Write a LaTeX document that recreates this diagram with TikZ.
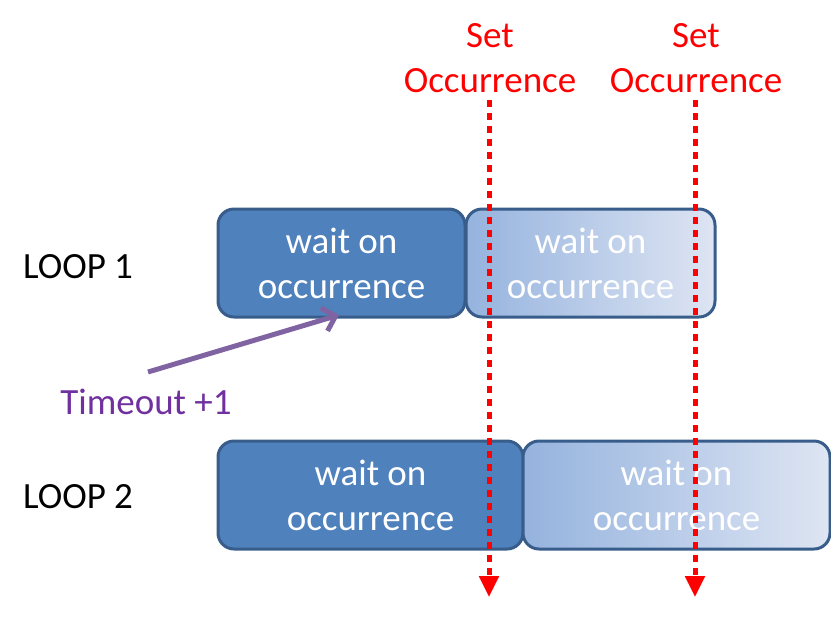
\documentclass[tikz,border=0pt]{standalone}
\usepackage{fontspec}
\setmainfont{Carlito}
\usetikzlibrary{arrows.meta}
\definecolor{boxblue}{RGB}{79,129,189}
\definecolor{boxline}{RGB}{56,93,138}
\definecolor{fadeleft}{RGB}{149,179,222}
\definecolor{faderight}{RGB}{222,229,243}
\definecolor{tmarrow}{RGB}{128,100,162}
\definecolor{tmtext}{RGB}{112,48,160}
\tikzset{
  bigfont/.style={font=\fontsize{37}{45}\selectfont},
  waitbox/.style={draw=boxline, line width=3pt, rounded corners=16pt, text=white,
    align=center, bigfont, inner sep=0pt},
  darkbox/.style={waitbox, fill=boxblue},
  fadebox/.style={waitbox, left color=fadeleft, right color=faderight},
  setline/.style={red, line width=5pt, dash pattern=on 7pt off 6pt,
    -{Triangle[width=19pt,length=21pt]}},
}
\begin{document}
\begin{tikzpicture}[x=1pt,y=-1pt]
\useasboundingbox (0,0) rectangle (831,625);
% loop labels
\node[bigfont] (loopa) at (78,267) {LOOP 1};
\node[bigfont] (loopb) at (78,497) {LOOP 2};
% loop 1
\node[darkbox, minimum width=247pt, minimum height=108pt] (waita) at (341.5,263) {wait on\\occurrence};
\node[fadebox, minimum width=249pt, minimum height=108pt] (waitb) at (590.5,263) {wait on\\occurrence};
% loop 2
\node[darkbox, minimum width=305pt, minimum height=108pt] (waitc) at (370.5,495) {wait on\\occurrence};
\node[fadebox, minimum width=307pt, minimum height=108pt] (waitd) at (676.5,495) {wait on\\occurrence};
% set occurrence
\node[bigfont, text=red, align=center] (seta) at (490,58) {Set\\Occurrence};
\node[bigfont, text=red, align=center] (setb) at (696,58) {Set\\Occurrence};
\coordinate (seta top) at (489,100);
\coordinate (seta end) at (489,597);
\coordinate (setb top) at (695,100);
\coordinate (setb end) at (695,597);
\draw[setline] (seta top) -- (seta end);
\draw[setline] (setb top) -- (setb end);
% timeout
\node[bigfont, text=tmtext] (timeout) at (146,402) {Timeout +1};
\coordinate (tm start) at (148,372);
\coordinate (tm end) at (339,315);
\draw[tmarrow, line width=5pt, -{Straight Barb[length=12pt,width=24pt]}] (tm start) -- (tm end);
\end{tikzpicture}
\end{document}
